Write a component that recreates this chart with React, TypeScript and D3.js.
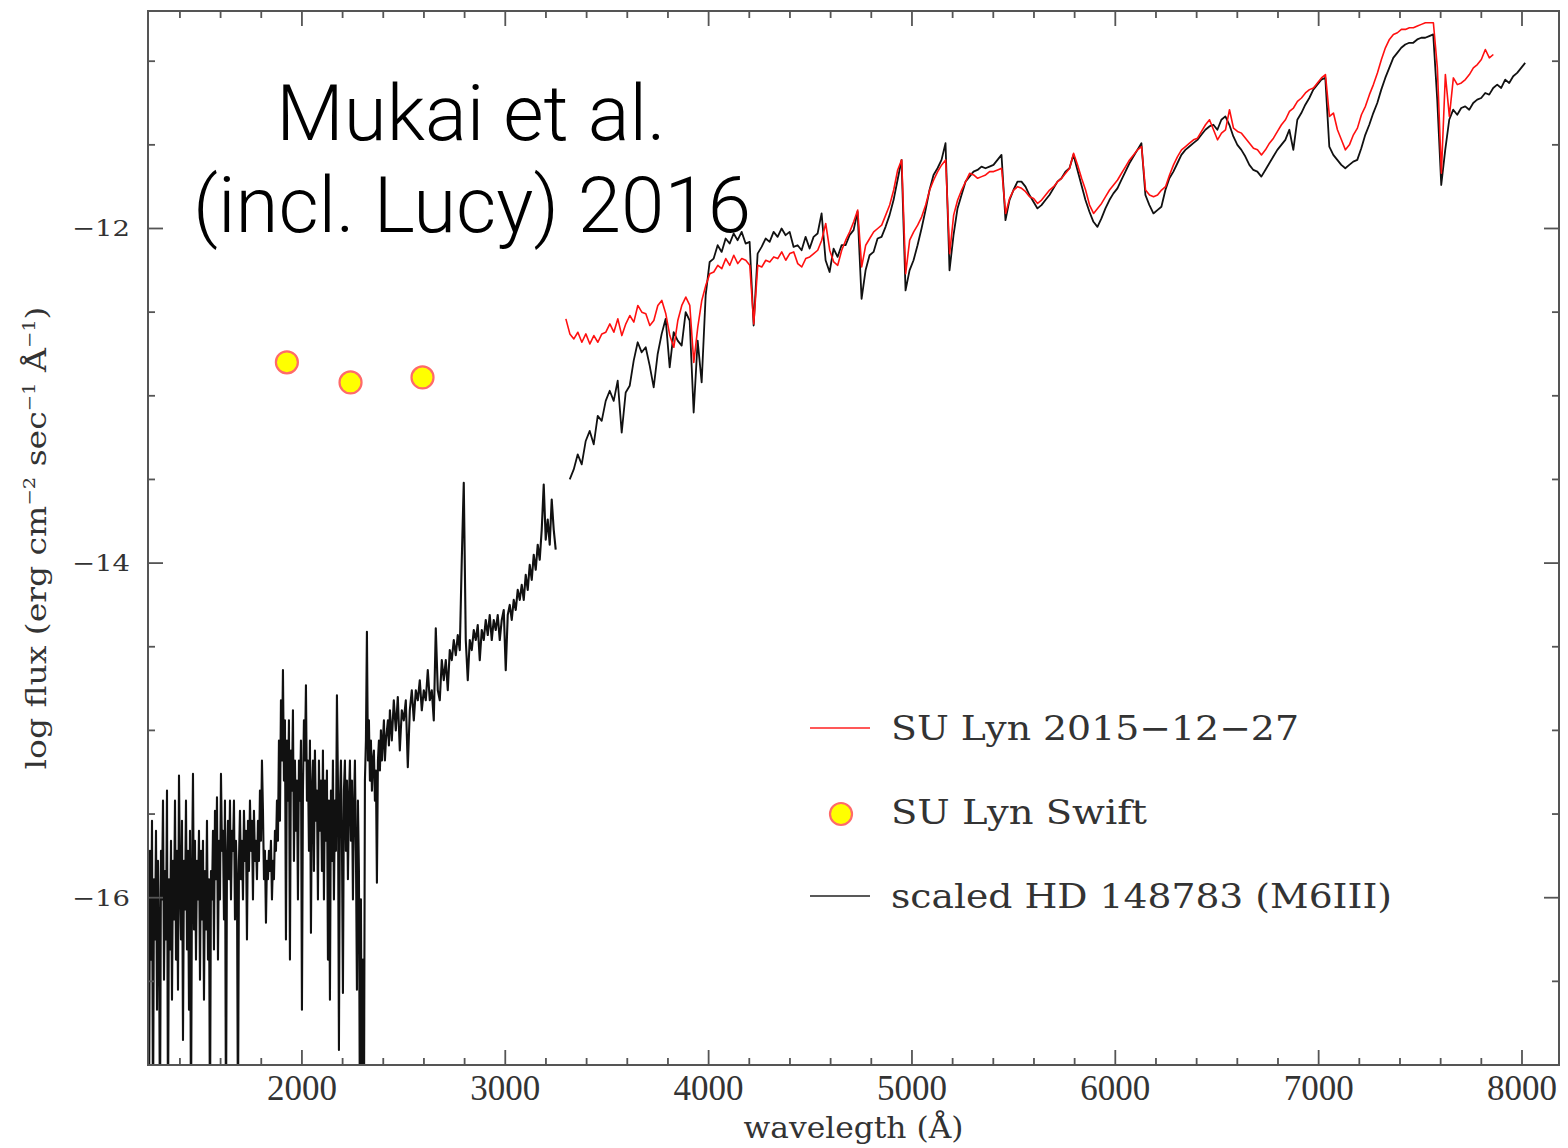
import React from "react";
import * as d3 from "d3";

// ---- canvas / plot frame ----
const W = 1568;
const H = 1148;
const PLOT = { left: 148, right: 1559, top: 11, bottom: 1065 };

const X_DOMAIN: [number, number] = [1243, 8182];
const Y_DOMAIN: [number, number] = [-17.0, -10.7];

// ---- axis ticks ----
const xMajorTicks = [2000, 3000, 4000, 5000, 6000, 7000, 8000];
const xMinorTicks = [
  1400, 1600, 1800, 2200, 2400, 2600, 2800, 3200, 3400, 3600, 3800, 4200, 4400, 4600, 4800,
  5200, 5400, 5600, 5800, 6200, 6400, 6600, 6800, 7200, 7400, 7600, 7800,
];
const yMajorTicks = [-12, -14, -16];
const yMinorTicks = [-11, -11.5, -12.5, -13, -13.5, -14.5, -15, -15.5, -16.5];

// ---- scaled HD 148783 (M6III) template, UV part (short-wavelength camera) ----
const FAR_UV_START = 1243;
const FAR_UV_STEP = 4.916;
const farUvFlux = [
  -16.01, -17.4, -15.72, -16.37, -15.54, -17.4, -15.89, -16.25, -15.6, -16.67,
  -15.78, -16.19, -17.4, -15.72, -16.01, -15.42, -16.49, -15.84, -16.25, -15.36,
  -17.4, -15.89, -16.31, -15.66, -16.61, -15.78, -16.13, -15.42, -16.37, -15.72,
  -16.55, -15.27, -15.89, -16.25, -15.54, -16.85, -15.78, -16.07, -15.42, -16.31,
  -15.72, -16.67, -15.6, -17.4, -15.89, -15.26, -16.19, -15.66, -16.37, -15.78,
  -16.01, -15.6, -16.49, -15.72, -16.13, -15.66, -16.61, -15.84, -16.19, -15.54,
  -16.37, -15.89, -17.4, -15.84, -16.01, -15.6, -16.31, -15.48, -15.89, -15.4,
  -16.37, -15.66, -16.01, -15.26, -15.72, -15.6, -16.13, -15.42, -17.4, -15.78,
  -15.54, -15.89, -15.42, -16.01, -15.6, -15.72, -15.42, -16.13, -15.66, -15.89,
  -17.4, -15.78, -15.48, -15.89, -15.66, -16.01, -15.48, -15.78, -15.6, -16.25,
  -15.54, -15.84, -15.42, -15.72, -15.54, -16.01, -15.48, -15.78, -15.66, -15.89,
  -15.54, -15.78, -15.36, -15.66, -15.18, -15.48, -15.89, -15.72, -16.15, -15.78,
  -15.89, -15.72, -15.84, -15.66, -16.01, -15.78, -15.89, -15.6, -15.72, -15.42,
  -15.66, -15.06, -15.54, -14.82, -15.18, -14.64, -15.3, -14.94, -16.25, -15.06,
  -15.42, -14.94, -16.37, -15.12, -15.36, -14.88, -15.78, -15.18, -15.6, -15.3,
  -16.01, -15.18, -15.42, -15.06, -16.67, -15.36, -14.94, -15.18, -14.73, -15.42,
  -15.18, -15.72, -15.06, -16.21, -15.36, -15.18, -15.84, -15.12, -15.54, -15.36,
  -16.01, -15.18, -15.6, -15.3, -15.84, -15.12, -16.01, -15.3, -15.66, -15.24,
  -16.37, -15.42, -16.61, -15.36, -15.78, -15.18, -16.01, -15.42, -15.72, -14.79,
  -15.3, -16.91, -15.42, -15.18, -15.66, -16.57, -15.36, -15.18, -15.72, -15.3,
  -15.89, -15.42, -15.18, -15.66, -15.3, -16.01, -15.48, -15.18, -15.72, -16.55,
  -15.42, -15.84, -17.4, -16.01, -17.4, -16.37, -17.4, -15.3, -15.06, -14.41,
  -15.18, -14.94, -15.3, -15.06, -15.36, -15.18, -15.12, -15.42, -15.24, -15.91,
  -15.18, -15.06, -15.24, -15.0, -15.18, -15.06, -14.94, -15.18, -15.06, -15.0,
  -14.94, -15.09, -14.88,
];

// ---- template, near-UV part (long-wavelength camera) ----
const NEAR_UV_START = 2442;
const NEAR_UV_STEP = 9.83;
const nearUvFlux = [
  -15.06, -14.82, -15.0, -14.8, -15.12, -14.88, -14.94, -14.82, -15.22, -14.88,
  -14.76, -14.94, -14.76, -14.82, -14.7, -14.88, -14.76, -14.82, -14.64, -14.82,
  -14.76, -14.94, -14.39, -14.76, -14.82, -14.58, -14.7, -14.58, -14.76, -14.52,
  -14.58, -14.46, -14.55, -14.43, -14.52, -13.98, -13.52, -14.46, -14.7, -14.46,
  -14.52, -14.4, -14.46, -14.37, -14.58, -14.4, -14.46, -14.34, -14.43, -14.31,
  -14.46, -14.34, -14.4, -14.31, -14.46, -14.34, -14.28, -14.64, -14.31, -14.25,
  -14.34, -14.22, -14.28, -14.16, -14.22, -14.13, -14.22, -14.07, -14.16, -14.01,
  -14.1, -13.95, -14.04, -13.89, -13.98, -13.8, -13.53, -13.86, -13.74, -13.89,
  -13.62, -13.8, -13.92,
];

// ---- template, optical part ----
const OPT_START = 3317;
const OPT_STEP = 19.66;
const templateOptFlux = [
  -13.5, -13.44, -13.35, -13.41, -13.27, -13.21, -13.29, -13.12, -13.15, -13.03,
  -12.97, -13.03, -12.91, -13.22, -12.98, -12.94, -12.79, -12.68, -12.74, -12.71,
  -12.82, -12.95, -12.75, -12.63, -12.54, -12.83, -12.62, -12.67, -12.7, -12.5,
  -12.55, -13.1, -12.67, -12.92, -12.4, -12.2, -12.18, -12.1, -12.14, -12.06,
  -12.09, -12.03, -12.07, -12.02, -12.09, -12.08, -12.58, -12.15, -12.11, -12.06,
  -12.08, -12.02, -12.05, -12.0, -12.04, -12.02, -12.11, -12.1, -12.13, -12.05,
  -12.12, -12.05, -12.03, -11.91, -12.19, -12.26, -12.12, -12.17, -12.1, -12.1,
  -12.04, -12.01, -11.9, -12.42, -12.25, -12.16, -12.14, -12.06, -12.05, -11.99,
  -11.92, -11.83, -11.71, -11.59, -12.37, -12.25, -12.19, -12.1, -12.0, -11.89,
  -11.77, -11.68, -11.64, -11.59, -11.49, -12.25, -12.04, -11.88, -11.8, -11.72,
  -11.69, -11.66, -11.65, -11.63, -11.64, -11.63, -11.62, -11.59, -11.56, -11.95,
  -11.83, -11.77, -11.72, -11.72, -11.75, -11.8, -11.84, -11.88, -11.86, -11.83,
  -11.8, -11.76, -11.72, -11.7, -11.66, -11.64, -11.56, -11.65, -11.74, -11.83,
  -11.9, -11.96, -11.99, -11.94, -11.88, -11.83, -11.79, -11.76, -11.71, -11.66,
  -11.61, -11.57, -11.53, -11.49, -11.8, -11.86, -11.91, -11.89, -11.87, -11.77,
  -11.7, -11.66, -11.61, -11.56, -11.53, -11.51, -11.49, -11.47, -11.44, -11.41,
  -11.39, -11.38, -11.41, -11.35, -11.33, -11.38, -11.45, -11.5, -11.53, -11.57,
  -11.62, -11.65, -11.66, -11.69, -11.65, -11.61, -11.57, -11.53, -11.5, -11.47,
  -11.41, -11.53, -11.35, -11.31, -11.26, -11.22, -11.17, -11.14, -11.11, -11.1,
  -11.51, -11.56, -11.59, -11.62, -11.64, -11.62, -11.6, -11.59, -11.52, -11.44,
  -11.38, -11.31, -11.25, -11.17, -11.1, -11.04, -10.98, -10.95, -10.92, -10.9,
  -10.89, -10.89, -10.87, -10.86, -10.86, -10.85, -10.84, -11.23, -11.74, -11.53,
  -11.35, -11.29, -11.32, -11.28, -11.27, -11.29, -11.25, -11.23, -11.22, -11.19,
  -11.2, -11.16, -11.14, -11.16, -11.11, -11.13, -11.09, -11.07, -11.04, -11.01,
];

// ---- SU Lyn 2015-12-27 spectrum ----
const SU_LYN_START = 3298;
const SU_LYN_STEP = 19.66;
const suLynFlux = [
  -12.54, -12.63, -12.66, -12.62, -12.68, -12.63, -12.69, -12.64, -12.68, -12.63,
  -12.62, -12.57, -12.62, -12.54, -12.64, -12.57, -12.52, -12.56, -12.46, -12.5,
  -12.51, -12.58, -12.55, -12.46, -12.43, -12.51, -12.64, -12.71, -12.55, -12.46,
  -12.41, -12.46, -12.8, -12.59, -12.43, -12.34, -12.27, -12.26, -12.22, -12.24,
  -12.18, -12.22, -12.16, -12.21, -12.18, -12.19, -12.22, -12.57, -12.22, -12.23,
  -12.19, -12.2, -12.17, -12.18, -12.14, -12.19, -12.15, -12.14, -12.21, -12.23,
  -12.18, -12.17, -12.15, -12.13, -12.07, -11.97, -12.13, -12.2, -12.22, -12.13,
  -12.07, -12.02, -11.96, -11.89, -12.23, -12.1, -12.06, -12.02, -12.0, -11.98,
  -11.92, -11.86, -11.77, -11.65, -11.59, -12.27, -12.07, -12.02, -11.98, -11.93,
  -11.86, -11.77, -11.71, -11.66, -11.62, -11.59, -12.15, -11.92, -11.83, -11.77,
  -11.72, -11.67, -11.68, -11.7, -11.69, -11.68, -11.66, -11.66, -11.65, -11.64,
  -11.91, -11.82, -11.77, -11.75, -11.76, -11.78, -11.81, -11.82, -11.85, -11.83,
  -11.8, -11.77, -11.75, -11.72, -11.7, -11.67, -11.64, -11.55, -11.62, -11.7,
  -11.77, -11.86, -11.91, -11.88, -11.85, -11.81, -11.77, -11.74, -11.71, -11.67,
  -11.63, -11.59, -11.56, -11.53, -11.51, -11.77, -11.8, -11.81, -11.8, -11.77,
  -11.75, -11.68, -11.62, -11.57, -11.53, -11.51, -11.49, -11.47, -11.46, -11.42,
  -11.38, -11.35, -11.41, -11.47, -11.43, -11.41, -11.29, -11.4, -11.42, -11.43,
  -11.46, -11.49, -11.52, -11.53, -11.56, -11.53, -11.49, -11.46, -11.42, -11.38,
  -11.35, -11.3, -11.28, -11.24, -11.22, -11.19, -11.17, -11.16, -11.13, -11.1,
  -11.08, -11.33, -11.31, -11.41, -11.47, -11.53, -11.5, -11.44, -11.4, -11.32,
  -11.27, -11.2, -11.14, -11.07, -10.99, -10.92, -10.87, -10.84, -10.83, -10.81,
  -10.81, -10.8, -10.8, -10.79, -10.78, -10.77, -10.77, -10.77, -11.04, -11.67,
  -11.08, -11.33, -11.1, -11.14, -11.13, -11.11, -11.08, -11.04, -11.02, -10.99,
  -10.93, -10.98, -10.96,
];

// ---- SU Lyn Swift photometry ----
const swiftWave = [1926, 2239, 2593];
const swiftFlux = [-12.8, -12.92, -12.89];

// ---- text ----
const titleLines = ["Mukai et al.", "(incl. Lucy) 2016"];
const legendLabels = ["SU Lyn 2015\u221212\u221227", "SU Lyn Swift", "scaled HD 148783 (M6III)"];

type Pt = [number, number];

const sampled = (start: number, step: number, flux: number[]): Pt[] =>
  flux.map((f, i) => [start + i * step, f] as Pt);

const AXIS = "#555";
const SERIF = "'Liberation Serif', 'Times New Roman', serif";
const WIDE_SERIF = "'DejaVu Serif', serif";
const SANS = "Roboto, 'Liberation Sans', Arial, sans-serif";

export default function App() {
  const x = d3.scaleLinear().domain(X_DOMAIN).range([PLOT.left, PLOT.right]);
  const y = d3.scaleLinear().domain(Y_DOMAIN).range([PLOT.bottom, PLOT.top]);
  const line = d3
    .line<Pt>()
    .x((d) => x(d[0]))
    .y((d) => y(d[1]));

  const uvTemplate = [
    ...sampled(FAR_UV_START, FAR_UV_STEP, farUvFlux),
    ...sampled(NEAR_UV_START, NEAR_UV_STEP, nearUvFlux),
  ];
  const optTemplate = sampled(OPT_START, OPT_STEP, templateOptFlux);
  const suLyn = sampled(SU_LYN_START, SU_LYN_STEP, suLynFlux);

  const majorLen = 15;
  const minorLen = 7;

  return (
    <div style={{ position: "absolute", left: 0, top: 0 }}>
      <svg width={W} height={H} viewBox={`0 0 ${W} ${H}`} style={{ display: "block", background: "#fff" }}>
        <defs>
          <clipPath id="plot-clip">
            <rect x={PLOT.left} y={PLOT.top} width={PLOT.right - PLOT.left} height={PLOT.bottom - PLOT.top} />
          </clipPath>
        </defs>

        {/* spectra */}
        <g clipPath="url(#plot-clip)" fill="none" strokeLinejoin="round">
          <path d={line(uvTemplate) ?? ""} stroke="#111" strokeWidth={2.1} />
          <path d={line(optTemplate) ?? ""} stroke="#111" strokeWidth={1.8} />
          <path d={line(suLyn) ?? ""} stroke="#ff1010" strokeWidth={1.6} />
        </g>

        {/* Swift points */}
        <g>
          {swiftWave.map((w, i) => (
            <circle key={i} cx={x(w)} cy={y(swiftFlux[i])} r={11} fill="#ffff00" stroke="#ff6a6a" strokeWidth={2.2} />
          ))}
        </g>

        {/* frame */}
        <rect
          x={PLOT.left}
          y={PLOT.top}
          width={PLOT.right - PLOT.left}
          height={PLOT.bottom - PLOT.top}
          fill="none"
          stroke={AXIS}
          strokeWidth={2}
        />

        {/* ticks on all four sides */}
        <g stroke={AXIS} strokeWidth={1.8}>
          {xMajorTicks.map((t) => (
            <g key={`xM${t}`}>
              <line x1={x(t)} x2={x(t)} y1={PLOT.bottom} y2={PLOT.bottom - majorLen} />
              <line x1={x(t)} x2={x(t)} y1={PLOT.top} y2={PLOT.top + majorLen} />
            </g>
          ))}
          {xMinorTicks.map((t) => (
            <g key={`xm${t}`}>
              <line x1={x(t)} x2={x(t)} y1={PLOT.bottom} y2={PLOT.bottom - minorLen} />
              <line x1={x(t)} x2={x(t)} y1={PLOT.top} y2={PLOT.top + minorLen} />
            </g>
          ))}
          {yMajorTicks.map((t) => (
            <g key={`yM${t}`}>
              <line x1={PLOT.left} x2={PLOT.left + majorLen} y1={y(t)} y2={y(t)} />
              <line x1={PLOT.right} x2={PLOT.right - majorLen} y1={y(t)} y2={y(t)} />
            </g>
          ))}
          {yMinorTicks.map((t) => (
            <g key={`ym${t}`}>
              <line x1={PLOT.left} x2={PLOT.left + minorLen} y1={y(t)} y2={y(t)} />
              <line x1={PLOT.right} x2={PLOT.right - minorLen} y1={y(t)} y2={y(t)} />
            </g>
          ))}
        </g>

        {/* tick labels */}
        <g fill="#333" fontFamily={SERIF}>
          {xMajorTicks.map((t) => (
            <text key={`xl${t}`} x={x(t)} y={1100} fontSize={35} textAnchor="middle">
              {String(t)}
            </text>
          ))}
          {yMajorTicks.map((t) => (
            <text
              key={`yl${t}`}
              x={130}
              y={y(t) + 8}
              fontSize={23}
              fontFamily={WIDE_SERIF}
              textAnchor="end"
              textLength={58}
              lengthAdjust="spacingAndGlyphs"
            >
              {`\u2212${Math.abs(t)}`}
            </text>
          ))}
        </g>

        {/* axis titles */}
        <text
          x={(PLOT.left + PLOT.right) / 2}
          y={1138}
          fontSize={30}
          fontFamily={WIDE_SERIF}
          fill="#333"
          textAnchor="middle"
          textLength={220}
          lengthAdjust="spacingAndGlyphs"
        >
          wavelegth (Å)
        </text>
        <text
          transform="translate(46,538) rotate(-90)"
          fontSize={27}
          fontFamily={WIDE_SERIF}
          fill="#333"
          textAnchor="middle"
          textLength={463}
          lengthAdjust="spacingAndGlyphs"
        >
          log flux (erg cm
          <tspan fontSize={16} dy={-11}>{"\u22122"}</tspan>
          <tspan dy={11}> sec</tspan>
          <tspan fontSize={16} dy={-11}>{"\u22121"}</tspan>
          <tspan dy={11}> Å</tspan>
          <tspan fontSize={16} dy={-11}>{"\u22121"}</tspan>
          <tspan dy={11}>)</tspan>
        </text>

        {/* legend */}
        <g fontFamily={WIDE_SERIF} fontSize={34} fill="#333">
          <line x1={810} x2={870} y1={728} y2={728} stroke="#ff2020" strokeWidth={1.6} />
          <text x={891} y={740} textLength={408} lengthAdjust="spacingAndGlyphs">
            {legendLabels[0]}
          </text>
          <circle cx={841} cy={814} r={11} fill="#ffff00" stroke="#ff6a6a" strokeWidth={2.2} />
          <text x={891} y={824} textLength={256} lengthAdjust="spacingAndGlyphs">
            {legendLabels[1]}
          </text>
          <line x1={810} x2={870} y1={896} y2={896} stroke="#222" strokeWidth={1.6} />
          <text x={891} y={908} textLength={501} lengthAdjust="spacingAndGlyphs">
            {legendLabels[2]}
          </text>
        </g>

        {/* title */}
        <g fontFamily={SANS} fontWeight={300} fontSize={78} fill="#000" textAnchor="middle">
          <text x={471} y={140}>
            {titleLines[0]}
          </text>
          <text x={472} y={232}>
            {titleLines[1]}
          </text>
        </g>
      </svg>
    </div>
  );
}
